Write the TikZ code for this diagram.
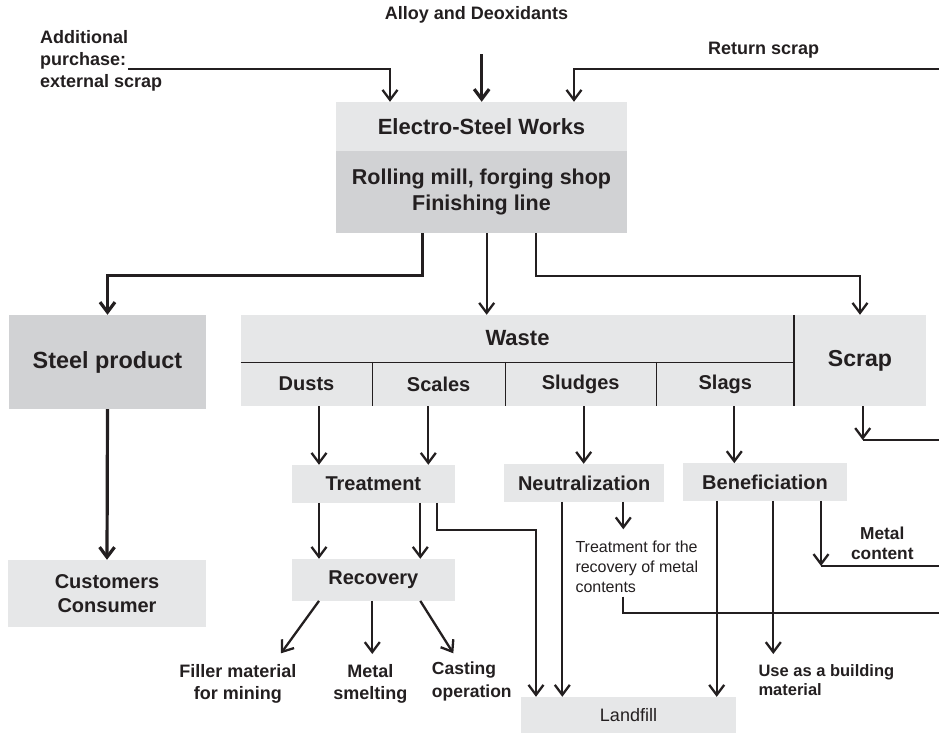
\documentclass[tikz,border=0pt]{standalone}
\usepackage{fontspec}
\setmainfont{Liberation Sans}
\usetikzlibrary{arrows.meta}
\definecolor{ink}{HTML}{231F20}
\definecolor{boxlight}{HTML}{E6E7E8}
\definecolor{boxdark}{HTML}{D1D2D4}

\begin{document}
\begin{tikzpicture}[x=1pt,y=-1pt,
  box/.style={fill=boxlight,inner sep=0pt,text=ink,align=center,font=\fontsize{20}{24.4}\selectfont\bfseries},
  darkbox/.style={box,fill=boxdark},
  lbl/.style={inner sep=0pt,text=ink,font=\fontsize{18}{21.7}\selectfont\bfseries},
  flow/.style={ink,line width=2.3pt,-{Straight Barb[length=10pt,width=15pt]}},
  mainflow/.style={flow,line width=3.2pt},
  link/.style={ink,line width=2.3pt},
  divider/.style={ink,line width=1.3pt}]
\useasboundingbox (0,0) rectangle (939,733);

% works and its inputs
\node[box,minimum width=291pt,minimum height=49pt,font=\fontsize{22}{26}\selectfont\bfseries] (elec) at (481.5,126.5) {Electro-Steel Works};
\node[darkbox,minimum width=291pt,minimum height=82pt,font=\fontsize{21.5}{26.7}\selectfont\bfseries] (mill) at (481.5,192) {Rolling mill, forging shop\\Finishing line};
\node[lbl] (alloy) at (476.5,15) {Alloy and Deoxidants};
\node[lbl,anchor=west,align=left] (purchase) at (40,61) {Additional\\purchase:\\external scrap};
\node[lbl] (retscrap) at (763.7,50) {Return scrap};

% product side
\node[darkbox,minimum width=197pt,minimum height=94pt,font=\fontsize{23.4}{28}\selectfont\bfseries] (steel) at (107.5,362) {Steel product};
\node[box,minimum width=198pt,minimum height=67pt] (cust) at (107,593.5) {Customers\\Consumer};

% waste table + scrap
\node[box,minimum width=553.6pt,minimum height=47pt,font=\fontsize{22}{26}\selectfont\bfseries] (waste) at (517.5,338.5) {Waste};
\node[box,minimum width=131.6pt,minimum height=44pt] (dusts) at (306.5,384) {Dusts};
\node[box,minimum width=132.7pt,minimum height=44pt] (scales) at (438.65,384) {Scales};
\node[box,minimum width=151.3pt,minimum height=44pt] (sludges) at (580.65,384) {Sludges};
\node[box,minimum width=138pt,minimum height=44pt] (slags) at (725.3,384) {Slags};
\node[box,minimum width=131.4pt,minimum height=91pt,font=\fontsize{23.1}{28}\selectfont\bfseries] (scrap) at (860,360.5) {Scrap};

% processing
\node[box,minimum width=162.7pt,minimum height=37.7pt] (treat) at (373.35,483.85) {Treatment};
\node[box,minimum width=159.7pt,minimum height=37.7pt] (neutral) at (584.15,482.85) {Neutralization};
\node[box,minimum width=164pt,minimum height=37.4pt] (benef) at (765,482) {Beneficiation};
\node[box,minimum width=162.7pt,minimum height=41.7pt] (recov) at (373.35,579.85) {Recovery};
\node[box,minimum width=215pt,minimum height=36pt,font=\fontsize{18}{22}\selectfont] (landfill) at (628.5,715) {Landfill};

% end uses
\node[lbl,align=center,font=\fontsize{18}{22.3}\selectfont\bfseries] (filler) at (237.8,684) {Filler material\\for mining};
\node[lbl,align=center,font=\fontsize{18}{22.3}\selectfont\bfseries] (smelt) at (370.3,684) {Metal\\smelting};
\node[lbl,anchor=west,align=left,font=\fontsize{17.5}{22.3}\selectfont\bfseries] (casting) at (431.7,681.5) {Casting\\operation};
\node[lbl,anchor=west,align=left,font=\fontsize{16}{20}\selectfont] (metalrec) at (575.3,566.7) {Treatment for the\\recovery of metal\\contents};
\node[lbl,anchor=west,align=left,font=\fontsize{16.5}{19.3}\selectfont\bfseries] (building) at (758.3,680.3) {Use as a building\\material};
\node[lbl,align=center,font=\fontsize{17.3}{20}\selectfont\bfseries] (metalcont) at (882.3,543.3) {Metal\\content};

% table lines
\draw[divider] (waste.south west) -- (waste.south east);
\draw[divider] (dusts.north east) -- (dusts.south east);
\draw[divider] (scales.north east) -- (scales.south east);
\draw[divider] (sludges.north east) -- (sludges.south east);
\draw[divider] (scrap.north west) -- (scrap.south west);

% inputs
\coordinate (addStart) at (128.3,69.3);
\coordinate (addBend) at (390,69.3);
\coordinate (alloyStart) at (481.7,54.3);
\coordinate (retStart) at (939,69.3);
\coordinate (retBend) at (574,69.3);
\draw[flow] (addStart) -- (addBend) -- (addBend |- elec.north);
\draw[mainflow] (alloyStart) -- (alloyStart |- elec.north);
\draw[flow] (retStart) -- (retBend) -- (retBend |- elec.north);

% outputs of the mill
\coordinate (toSteel) at (422.7,275.3);
\coordinate (toWaste) at (486.7,0);
\coordinate (toScrap) at (535.7,276);
\draw[mainflow] (toSteel |- mill.south) -- (toSteel) -| (steel.north);
\draw[flow] (toWaste |- mill.south) -- (toWaste |- waste.north);
\draw[flow] (toScrap |- mill.south) -- (toScrap) -| (scrap.north);
\draw[mainflow] (steel.south) -- (cust.north);

% waste streams
\coordinate (colA) at (319,0);
\coordinate (colB) at (428.3,0);
\coordinate (colC) at (583.7,0);
\coordinate (colD) at (734.3,0);
\coordinate (colE) at (420.3,0);
\draw[flow] (colA |- dusts.south) -- (colA |- treat.north);
\draw[flow] (colB |- scales.south) -- (colB |- treat.north);
\draw[flow] (colC |- sludges.south) -- (colC |- neutral.north);
\draw[flow] (colD |- slags.south) -- (colD |- benef.north);

\coordinate (scrapBend) at (862.7,440);
\coordinate (scrapEdge) at (939,440);
\draw[flow] (scrapBend |- scrap.south) -- (scrapBend);
\draw[link] (scrapBend) -- (scrapEdge);

% treatment / recovery
\coordinate (treatBend) at (437.3,530);
\coordinate (landA) at (536,530);
\draw[flow] (colA |- treat.south) -- (colA |- recov.north);
\draw[flow] (colE |- treat.south) -- (colE |- recov.north);
\draw[flow] (treatBend |- treat.south) -- (treatBend) -- (landA) -- (landA |- landfill.north);

\coordinate (fillerTip) at (281,653.3);
\coordinate (smeltTip) at (372.3,654);
\coordinate (castTip) at (453.3,653.3);
\draw[flow] (colA |- recov.south) -- (fillerTip);
\draw[flow] (smeltTip |- recov.south) -- (smeltTip);
\draw[flow] (colE |- recov.south) -- (castTip);

% neutralization
\coordinate (colF) at (562.3,0);
\coordinate (recTip) at (623.3,529.3);
\coordinate (recStart) at (623.3,596.7);
\coordinate (recBend) at (623.3,612.7);
\coordinate (recEdge) at (939,612.7);
\draw[flow] (colF |- neutral.south) -- (colF |- landfill.north);
\draw[flow] (recTip |- neutral.south) -- (recTip);
\draw[link] (recStart) -- (recBend) -- (recEdge);

% beneficiation
\coordinate (colG) at (716.7,0);
\coordinate (buildTip) at (773.3,654);
\coordinate (metalBend) at (821,566);
\coordinate (metalEdge) at (939,566);
\draw[flow] (colG |- benef.south) -- (colG |- landfill.north);
\draw[flow] (buildTip |- benef.south) -- (buildTip);
\draw[flow] (metalBend |- benef.south) -- (metalBend);
\draw[link] (metalBend) -- (metalEdge);

\end{tikzpicture}
\end{document}
